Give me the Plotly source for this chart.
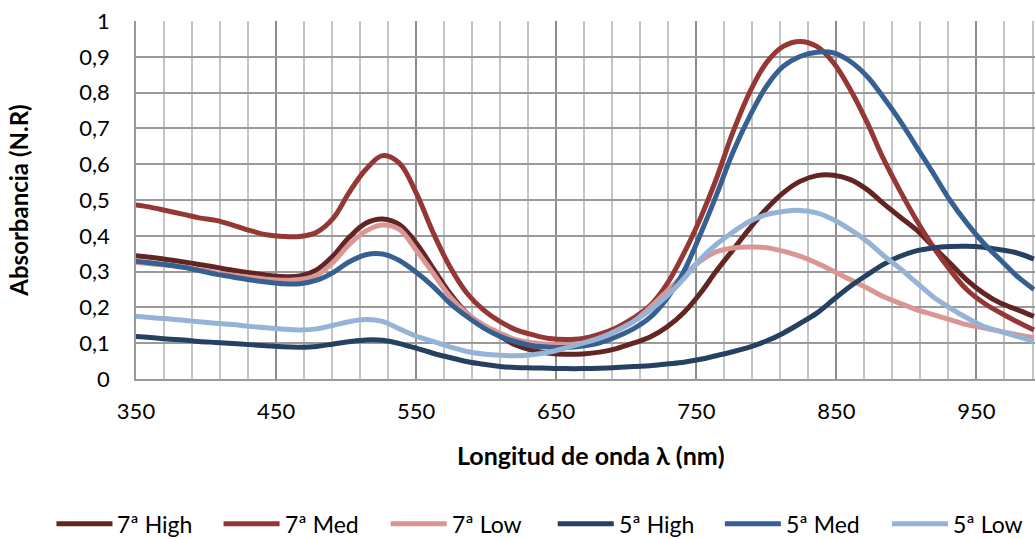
import plotly.graph_objects as go

# Wavelength grid (nm), roughly 12 nm spacing
wavelength = [348, 360, 372, 384, 395, 407, 419, 431, 443, 455, 467, 479, 491, 502, 514, 526,
              538, 550, 562, 574, 586, 598, 610, 621, 633, 645, 657, 669, 681, 693, 705, 717,
              729, 741, 753, 764, 776, 788, 800, 812, 824, 836, 848, 860, 872, 883, 895, 907,
              919, 931, 943, 955, 967, 979, 991]

# Normalised absorbance for each sample
abs_7_high = [.345, .34, .334, .327, .32, .312, .304, .297, .29, .286, .288, .305, .345, .395, .435, .447,
              .431, .38, .31, .24, .184, .147, .119, .095, .08, .072, .069, .07, .075, .085, .1, .117,
              .145, .185, .24, .30, .36, .42, .475, .52, .552, .568, .569, .557, .529, .492, .454, .417,
              .37, .324, .277, .24, .212, .194, .175]
abs_7_med = [.487, .48, .47, .46, .45, .443, .43, .415, .403, .398, .398, .41, .45, .52, .585, .624,
             .603, .52, .41, .314, .241, .193, .16, .138, .124, .113, .11, .113, .125, .143, .17, .205,
             .265, .35, .45, .556, .688, .80, .883, .929, .943, .929, .883, .808, .716, .62, .529, .445,
             .37, .305, .25, .213, .185, .16, .137]
abs_7_low = [.326, .322, .318, .313, .305, .297, .29, .284, .279, .276, .278, .29, .327, .375, .413, .43,
             .418, .36, .296, .231, .184, .151, .128, .11, .101, .097, .095, .1, .115, .135, .16, .2,
             .245, .29, .33, .355, .366, .369, .367, .357, .343, .324, .301, .277, .254, .231, .212, .194,
             .18, .166, .152, .143, .133, .124, .115]
abs_5_high = [.119, .116, .112, .109, .105, .102, .099, .096, .093, .09, .089, .091, .098, .104, .109, .108,
              .099, .086, .072, .06, .049, .041, .035, .032, .031, .03, .029, .029, .03, .032, .035, .037,
              .042, .047, .055, .065, .076, .089, .106, .128, .155, .184, .222, .259, .291, .319, .342, .358,
              .366, .37, .371, .368, .361, .352, .335]
abs_5_med = [.33, .325, .319, .312, .303, .293, .285, .277, .271, .266, .266, .276, .298, .327, .347, .349,
             .331, .298, .259, .212, .175, .143, .119, .104, .093, .089, .088, .092, .101, .118, .14, .172,
             .225, .30, .405, .51, .632, .733, .817, .873, .901, .913, .911, .887, .845, .79, .724, .65,
             .576, .50, .436, .38, .333, .287, .25]
abs_5_low = [.176, .172, .168, .164, .16, .156, .152, .147, .143, .139, .137, .14, .15, .16, .166, .161,
             .14, .12, .105, .09, .077, .07, .066, .065, .068, .075, .087, .1, .114, .135, .16, .192,
             .232, .28, .335, .375, .41, .44, .459, .468, .471, .464, .445, .417, .384, .347, .31, .27,
             .23, .199, .171, .147, .133, .119, .105]

series_names = ["7ª High", "7ª Med", "7ª Low", "5ª High", "5ª Med", "5ª Low"]
series_values = [abs_7_high, abs_7_med, abs_7_low, abs_5_high, abs_5_med, abs_5_low]
series_colors = ["#632523", "#953735", "#d99694", "#254061", "#376092", "#95b3d7"]

FONT = "Lato"
W, H = 1035, 539
PLOT_L, PLOT_T, PLOT_B = 136.5, 21.3, 379.3
X_MIN = 350
PX_PER_NM = 1.4
X_MAX = X_MIN + (W - PLOT_L) / PX_PER_NM


def paper_x(px):
    return (px - PLOT_L) / (W - PLOT_L)


def paper_y(py):
    return (PLOT_B - py) / (PLOT_B - PLOT_T)


fig = go.Figure()
for name, vals, color in zip(series_names, series_values, series_colors):
    fig.add_trace(go.Scatter(
        x=wavelength, y=vals, name=name, mode="lines",
        line=dict(color=color, width=5, shape="spline", smoothing=1.0),
    ))

# Legend row below the axis: a long line swatch followed by the series name
legend_y = paper_y(524)
legend_start = 57
legend_step = 167
swatch_len = 56
shapes, annotations = [], []
for i, (name, color) in enumerate(zip(series_names, series_colors)):
    x0 = legend_start + i * legend_step
    shapes.append(dict(
        type="line", xref="paper", yref="paper",
        x0=paper_x(x0), x1=paper_x(x0 + swatch_len), y0=legend_y, y1=legend_y,
        line=dict(color=color, width=5),
    ))
    annotations.append(dict(
        text=name, xref="paper", yref="paper", x=paper_x(x0 + swatch_len + 3), y=legend_y,
        xanchor="left", yanchor="middle", showarrow=False,
        font=dict(family=FONT, size=23, color="black"),
    ))

annotations.append(dict(
    text="<b>Longitud de onda λ (nm)</b>", xref="paper", yref="paper",
    x=paper_x(591), y=paper_y(455), xanchor="center", yanchor="middle", showarrow=False,
    font=dict(family=FONT, size=25, color="black"),
))

fig.update_layout(
    width=W, height=H,
    margin=dict(l=136, r=0, t=21, b=160),
    paper_bgcolor="white", plot_bgcolor="white",
    separators=",.",
    font=dict(family=FONT, size=22, color="black"),
    showlegend=False,
    shapes=shapes,
    annotations=annotations,
)

fig.update_xaxes(
    range=[X_MIN, X_MAX],
    tick0=350, dtick=100, showgrid=True, gridcolor="#8c8c8c", gridwidth=1.5,
    minor=dict(tick0=350, dtick=20, showgrid=True, gridcolor="#c4c4c4", gridwidth=1.5),
    zeroline=False, showline=True, linecolor="#9a9a9a", linewidth=1.5,
    ticks="", ticklabelstandoff=12,
    tickfont=dict(family=FONT, size=22, color="black"),
)
fig.update_yaxes(
    range=[0, 1], tick0=0, dtick=0.1, showgrid=True, gridcolor="#9a9a9a", gridwidth=1.5,
    zeroline=False, showline=True, linecolor="#9a9a9a", linewidth=1.5,
    ticks="", ticklabelstandoff=20,
    tickfont=dict(family=FONT, size=22, color="black"),
    title=dict(text="<b>Absorbancia (N.R)</b>", standoff=44,
               font=dict(family=FONT, size=24, color="black")),
)

fig.write_html("out.html")
